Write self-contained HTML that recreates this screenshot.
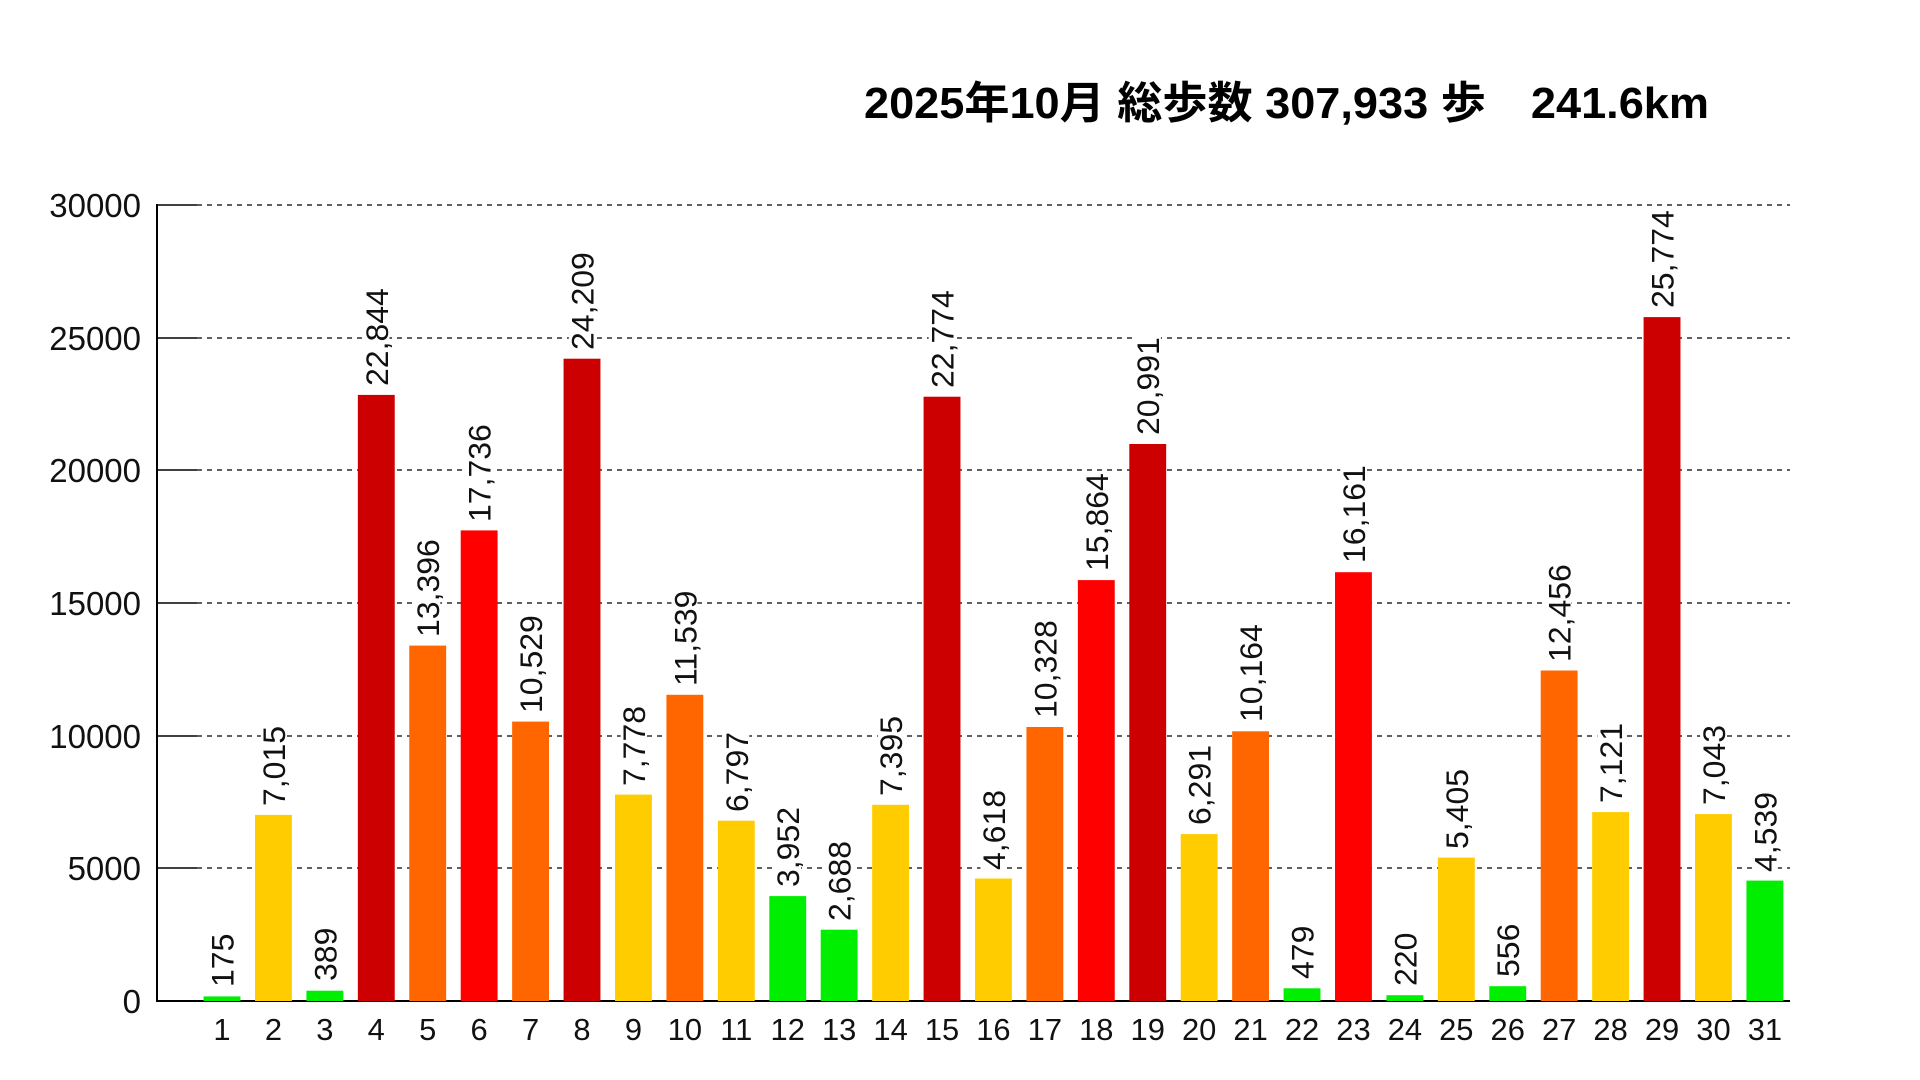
<!DOCTYPE html>
<html><head><meta charset="utf-8"><style>
body{margin:0;background:#fff}
svg{display:block}
.v{font-family:"Liberation Sans",sans-serif;font-size:32px;fill:#111}
.t{font-family:"Liberation Sans",sans-serif;font-size:31px;fill:#111}
.y{font-family:"Liberation Sans",sans-serif;font-size:33px;fill:#111}
</style></head><body>
<svg width="1920" height="1080" viewBox="0 0 1920 1080" xmlns="http://www.w3.org/2000/svg">
<rect width="1920" height="1080" fill="#fff"/>
<text x="864" y="118" font-family="'Liberation Sans','Noto Sans CJK JP',sans-serif" font-weight="bold" font-size="44" fill="#000" textLength="845" lengthAdjust="spacingAndGlyphs">2025年10月 総歩数 307,933 歩　241.6km</text>
<g stroke="#000" stroke-width="1.5">
<line x1="157" y1="205" x2="197" y2="205"/><line x1="157" y1="338" x2="197" y2="338"/><line x1="157" y1="470" x2="197" y2="470"/><line x1="157" y1="603" x2="197" y2="603"/><line x1="157" y1="736" x2="197" y2="736"/><line x1="157" y1="868" x2="197" y2="868"/>
</g>
<g stroke="#000" stroke-width="1.3" stroke-dasharray="5,5">
<line x1="197" y1="205" x2="1790" y2="205"/><line x1="197" y1="338" x2="1790" y2="338"/><line x1="197" y1="470" x2="1790" y2="470"/><line x1="197" y1="603" x2="1790" y2="603"/><line x1="197" y1="736" x2="1790" y2="736"/><line x1="197" y1="868" x2="1790" y2="868"/>
</g>
<line x1="157" y1="204" x2="157" y2="1002" stroke="#000" stroke-width="2"/>
<line x1="156" y1="1001" x2="1790" y2="1001" stroke="#000" stroke-width="2"/>
<g class="y" text-anchor="end">
<text x="141" y="217">30000</text><text x="141" y="350">25000</text><text x="141" y="482">20000</text><text x="141" y="615">15000</text><text x="141" y="748">10000</text><text x="141" y="880">5000</text><text x="141" y="1013">0</text>
</g>
<g transform="translate(222,0) scale(0.9967,1) translate(-222,0)">
<g>
<rect x="203.5" y="996.4" width="37" height="4.6" fill="#00ee00"/>
<rect x="255.1" y="814.9" width="37" height="186.1" fill="#ffcc00"/>
<rect x="306.7" y="990.7" width="37" height="10.3" fill="#00ee00"/>
<rect x="358.3" y="394.9" width="37" height="606.1" fill="#cc0000"/>
<rect x="409.9" y="645.6" width="37" height="355.4" fill="#ff6600"/>
<rect x="461.5" y="530.4" width="37" height="470.6" fill="#ff0000"/>
<rect x="513.1" y="721.6" width="37" height="279.4" fill="#ff6600"/>
<rect x="564.7" y="358.7" width="37" height="642.3" fill="#cc0000"/>
<rect x="616.3" y="794.6" width="37" height="206.4" fill="#ffcc00"/>
<rect x="667.9" y="694.8" width="37" height="306.2" fill="#ff6600"/>
<rect x="719.5" y="820.7" width="37" height="180.3" fill="#ffcc00"/>
<rect x="771.1" y="896.1" width="37" height="104.9" fill="#00ee00"/>
<rect x="822.7" y="929.7" width="37" height="71.3" fill="#00ee00"/>
<rect x="874.3" y="804.8" width="37" height="196.2" fill="#ffcc00"/>
<rect x="925.9" y="396.7" width="37" height="604.3" fill="#cc0000"/>
<rect x="977.5" y="878.5" width="37" height="122.5" fill="#ffcc00"/>
<rect x="1029.1" y="727.0" width="37" height="274.0" fill="#ff6600"/>
<rect x="1080.7" y="580.1" width="37" height="420.9" fill="#ff0000"/>
<rect x="1132.3" y="444.0" width="37" height="557.0" fill="#cc0000"/>
<rect x="1183.9" y="834.1" width="37" height="166.9" fill="#ffcc00"/>
<rect x="1235.5" y="731.3" width="37" height="269.7" fill="#ff6600"/>
<rect x="1287.1" y="988.3" width="37" height="12.7" fill="#00ee00"/>
<rect x="1338.7" y="572.2" width="37" height="428.8" fill="#ff0000"/>
<rect x="1390.3" y="995.2" width="37" height="5.8" fill="#00ee00"/>
<rect x="1441.9" y="857.6" width="37" height="143.4" fill="#ffcc00"/>
<rect x="1493.5" y="986.2" width="37" height="14.8" fill="#00ee00"/>
<rect x="1545.1" y="670.5" width="37" height="330.5" fill="#ff6600"/>
<rect x="1596.7" y="812.1" width="37" height="188.9" fill="#ffcc00"/>
<rect x="1648.3" y="317.1" width="37" height="683.9" fill="#cc0000"/>
<rect x="1699.9" y="814.1" width="37" height="186.9" fill="#ffcc00"/>
<rect x="1751.5" y="880.6" width="37" height="120.4" fill="#00ee00"/>
</g>
<g fill="#fff">
<rect x="209" y="933" width="26" height="55"/>
<rect x="261" y="725" width="26" height="82"/>
<rect x="312" y="927" width="26" height="55"/>
<rect x="364" y="287" width="26" height="100"/>
<rect x="415" y="538" width="26" height="100"/>
<rect x="467" y="423" width="26" height="100"/>
<rect x="519" y="614" width="26" height="100"/>
<rect x="570" y="251" width="26" height="100"/>
<rect x="622" y="705" width="26" height="82"/>
<rect x="673" y="587" width="26" height="100"/>
<rect x="725" y="731" width="26" height="82"/>
<rect x="777" y="806" width="26" height="82"/>
<rect x="828" y="840" width="26" height="82"/>
<rect x="880" y="715" width="26" height="82"/>
<rect x="931" y="289" width="26" height="100"/>
<rect x="983" y="789" width="26" height="82"/>
<rect x="1035" y="619" width="26" height="100"/>
<rect x="1086" y="472" width="26" height="100"/>
<rect x="1138" y="336" width="26" height="100"/>
<rect x="1189" y="744" width="26" height="82"/>
<rect x="1241" y="623" width="26" height="100"/>
<rect x="1293" y="925" width="26" height="55"/>
<rect x="1344" y="464" width="26" height="100"/>
<rect x="1396" y="932" width="26" height="55"/>
<rect x="1447" y="768" width="26" height="82"/>
<rect x="1499" y="923" width="26" height="55"/>
<rect x="1550" y="563" width="26" height="100"/>
<rect x="1602" y="722" width="26" height="82"/>
<rect x="1654" y="209" width="26" height="100"/>
<rect x="1705" y="724" width="26" height="82"/>
<rect x="1757" y="791" width="26" height="82"/>
</g>
<g class="v">
<text transform="translate(233.5,987) rotate(-90)">175</text>
<text transform="translate(285.1,806) rotate(-90)">7,015</text>
<text transform="translate(336.7,981) rotate(-90)">389</text>
<text transform="translate(388.3,386) rotate(-90)">22,844</text>
<text transform="translate(439.9,637) rotate(-90)">13,396</text>
<text transform="translate(491.5,522) rotate(-90)">17,736</text>
<text transform="translate(543.1,713) rotate(-90)">10,529</text>
<text transform="translate(594.7,350) rotate(-90)">24,209</text>
<text transform="translate(646.3,786) rotate(-90)">7,778</text>
<text transform="translate(697.9,686) rotate(-90)">11,539</text>
<text transform="translate(749.5,812) rotate(-90)">6,797</text>
<text transform="translate(801.1,887) rotate(-90)">3,952</text>
<text transform="translate(852.7,921) rotate(-90)">2,688</text>
<text transform="translate(904.3,796) rotate(-90)">7,395</text>
<text transform="translate(955.9,388) rotate(-90)">22,774</text>
<text transform="translate(1007.5,870) rotate(-90)">4,618</text>
<text transform="translate(1059.1,718) rotate(-90)">10,328</text>
<text transform="translate(1110.7,571) rotate(-90)">15,864</text>
<text transform="translate(1162.3,435) rotate(-90)">20,991</text>
<text transform="translate(1213.9,825) rotate(-90)">6,291</text>
<text transform="translate(1265.5,722) rotate(-90)">10,164</text>
<text transform="translate(1317.1,979) rotate(-90)">479</text>
<text transform="translate(1368.7,563) rotate(-90)">16,161</text>
<text transform="translate(1420.3,986) rotate(-90)">220</text>
<text transform="translate(1471.9,849) rotate(-90)">5,405</text>
<text transform="translate(1523.5,977) rotate(-90)">556</text>
<text transform="translate(1575.1,662) rotate(-90)">12,456</text>
<text transform="translate(1626.7,803) rotate(-90)">7,121</text>
<text transform="translate(1678.3,308) rotate(-90)">25,774</text>
<text transform="translate(1729.9,805) rotate(-90)">7,043</text>
<text transform="translate(1781.5,872) rotate(-90)">4,539</text>
</g>
<g class="t" text-anchor="middle">
<text x="222" y="1040">1</text><text x="273.6" y="1040">2</text><text x="325.2" y="1040">3</text><text x="376.8" y="1040">4</text><text x="428.4" y="1040">5</text><text x="480" y="1040">6</text><text x="531.6" y="1040">7</text><text x="583.2" y="1040">8</text><text x="634.8" y="1040">9</text><text x="686.4" y="1040">10</text><text x="738" y="1040">11</text><text x="789.6" y="1040">12</text><text x="841.2" y="1040">13</text><text x="892.8" y="1040">14</text><text x="944.4" y="1040">15</text><text x="996" y="1040">16</text><text x="1047.6" y="1040">17</text><text x="1099.2" y="1040">18</text><text x="1150.8" y="1040">19</text><text x="1202.4" y="1040">20</text><text x="1254" y="1040">21</text><text x="1305.6" y="1040">22</text><text x="1357.2" y="1040">23</text><text x="1408.8" y="1040">24</text><text x="1460.4" y="1040">25</text><text x="1512" y="1040">26</text><text x="1563.6" y="1040">27</text><text x="1615.2" y="1040">28</text><text x="1666.8" y="1040">29</text><text x="1718.4" y="1040">30</text><text x="1770" y="1040">31</text>
</g>
</g>
</svg>
</body></html>
